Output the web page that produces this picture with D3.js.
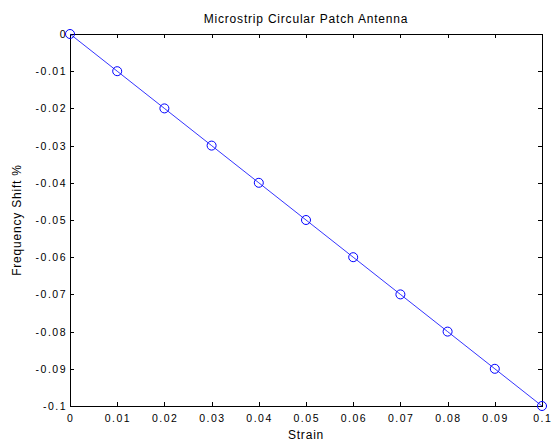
<!DOCTYPE html>
<html>
<head>
<meta charset="utf-8">
<script src="https://cdn.jsdelivr.net/npm/d3@7"></script>
<style>
  body { margin: 0; background: #fff; }
  svg { display: block; font-family: "Liberation Sans", Arial, sans-serif; }
</style>
</head>
<body>
<div id="chart"></div>
<script>
// data
const strain = [0, 0.01, 0.02, 0.03, 0.04, 0.05, 0.06, 0.07, 0.08, 0.09, 0.1];
const shift = [0, -0.01, -0.02, -0.03, -0.04, -0.05, -0.06, -0.07, -0.08, -0.09, -0.1];
const xTicks = [0, 0.01, 0.02, 0.03, 0.04, 0.05, 0.06, 0.07, 0.08, 0.09, 0.1];
const yTicks = [0, -0.01, -0.02, -0.03, -0.04, -0.05, -0.06, -0.07, -0.08, -0.09, -0.1];

const W = 551, H = 441;
const m = { left: 70, right: 9, top: 34, bottom: 35 };
const iw = W - m.left - m.right, ih = H - m.top - m.bottom;

const svg = d3.select('#chart').append('svg')
    .attr('width', W)
    .attr('height', H);

const x = d3.scaleLinear().domain([0, 0.1]).range([m.left, m.left + iw]);
const y = d3.scaleLinear().domain([-0.1, 0]).range([m.top + ih, m.top]);

const fmt = d => d === 0 ? '0' : String(+d.toFixed(2));

// box
svg.append('rect')
    .attr('x', m.left).attr('y', m.top)
    .attr('width', iw).attr('height', ih)
    .attr('fill', '#fff')
    .attr('stroke', '#000')
    .attr('stroke-width', 1)
    .attr('shape-rendering', 'crispEdges');

// inward ticks on all four sides
const tl = 4;
const tickStyle = g => g.attr('stroke', '#000').attr('shape-rendering', 'crispEdges');
svg.append('g').call(tickStyle).selectAll('line.b')
    .data(xTicks).enter().append('line')
    .attr('x1', d => Math.round(x(d)) + 0.5).attr('x2', d => Math.round(x(d)) + 0.5)
    .attr('y1', m.top + ih).attr('y2', m.top + ih - tl);
svg.append('g').call(tickStyle).selectAll('line.t')
    .data(xTicks).enter().append('line')
    .attr('x1', d => Math.round(x(d)) + 0.5).attr('x2', d => Math.round(x(d)) + 0.5)
    .attr('y1', m.top).attr('y2', m.top + tl);
svg.append('g').call(tickStyle).selectAll('line.l')
    .data(yTicks).enter().append('line')
    .attr('y1', d => Math.round(y(d)) + 0.5).attr('y2', d => Math.round(y(d)) + 0.5)
    .attr('x1', m.left).attr('x2', m.left + tl);
svg.append('g').call(tickStyle).selectAll('line.r')
    .data(yTicks).enter().append('line')
    .attr('y1', d => Math.round(y(d)) + 0.5).attr('y2', d => Math.round(y(d)) + 0.5)
    .attr('x1', m.left + iw).attr('x2', m.left + iw - tl);

// tick labels (wide, small screen font look)
svg.append('g').selectAll('text')
    .data(xTicks).enter().append('text')
    .attr('x', d => x(d) + 0.75)
    .attr('y', m.top + ih + 16)
    .attr('text-anchor', 'middle')
    .attr('font-size', 10.5)
    .attr('letter-spacing', 1.5)
    .attr('fill', '#000')
    .text(fmt);

svg.append('g').selectAll('text')
    .data(yTicks).enter().append('text')
    .attr('x', m.left - 3)
    .attr('y', d => y(d) + 4)
    .attr('text-anchor', 'end')
    .attr('font-size', 10.5)
    .attr('letter-spacing', 1.5)
    .attr('fill', '#000')
    .text(fmt);

// series
const pts = strain.map((s, i) => [s, shift[i]]);
svg.append('path')
    .datum(pts)
    .attr('fill', 'none')
    .attr('stroke', '#0000ff')
    .attr('stroke-width', 0.8)
    .attr('d', d3.line().x(d => x(d[0])).y(d => y(d[1])));

svg.append('g').selectAll('circle')
    .data(pts).enter().append('circle')
    .attr('cx', d => x(d[0]))
    .attr('cy', d => y(d[1]))
    .attr('r', 4.5)
    .attr('fill', 'none')
    .attr('stroke', '#0000ff')
    .attr('stroke-width', 1);

// labels
svg.append('text')
    .attr('x', m.left + iw / 2).attr('y', 23)
    .attr('text-anchor', 'middle')
    .attr('font-size', 12)
    .attr('letter-spacing', 0.8)
    .text('Microstrip Circular Patch Antenna');

svg.append('text')
    .attr('x', m.left + iw / 2).attr('y', 439)
    .attr('text-anchor', 'middle')
    .attr('font-size', 12)
    .attr('letter-spacing', 0.8)
    .text('Strain');

svg.append('text')
    .attr('transform', `translate(21,${m.top + ih / 2}) rotate(-90)`)
    .attr('text-anchor', 'middle')
    .attr('font-size', 12)
    .attr('letter-spacing', 0.8)
    .text('Frequency Shift %');
</script>
</body>
</html>
